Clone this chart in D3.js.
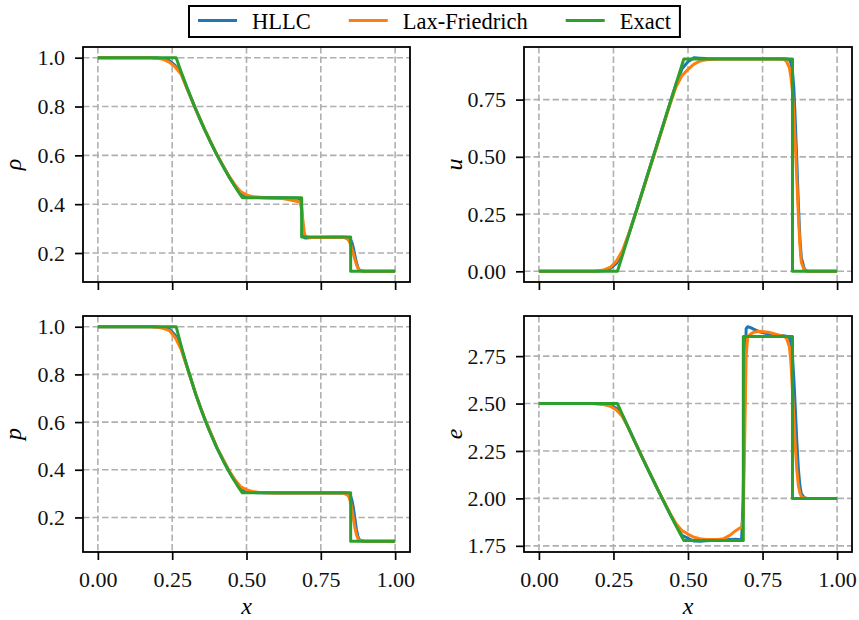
<!DOCTYPE html>
<html>
<head>
<meta charset="utf-8">
<script src="https://cdn.jsdelivr.net/npm/d3@7"></script>
<style>
  body { margin: 0; background: #fff; }
  svg { display: block; }
  svg text { font-family: "Liberation Serif", "Times New Roman", serif; }
</style>
</head>
<body>
<svg id="chart" width="859" height="620"></svg>
<script>
// grid of the numerical solutions
const xGrid = [0, 0.10, 0.18, 0.20, 0.22, 0.24, 0.26, 0.28, 0.30, 0.33, 0.36, 0.40, 0.44, 0.46, 0.48, 0.50,
  0.52, 0.54, 0.56, 0.60, 0.62, 0.64, 0.66, 0.675, 0.68, 0.685, 0.69, 0.695, 0.70, 0.71, 0.72, 0.74, 0.77,
  0.80, 0.82, 0.83, 0.84, 0.845, 0.85, 0.855, 0.86, 0.865, 0.87, 0.875, 0.88, 0.89, 0.90, 1.00];

const rhoHLLC = [1.0, 1.0, 1.0, 0.999, 0.996, 0.988, 0.968, 0.937, 0.875, 0.786, 0.703, 0.603, 0.515, 0.477, 0.444, 0.432,
  0.429, 0.428, 0.427, 0.426, 0.426, 0.425, 0.425, 0.424, 0.421, 0.38, 0.305, 0.262, 0.261, 0.262, 0.263, 0.264, 0.265,
  0.265, 0.265, 0.265, 0.264, 0.262, 0.256, 0.242, 0.218, 0.188, 0.160, 0.140, 0.130, 0.126, 0.125, 0.125];
const rhoLF = [1.0, 1.0, 1.0, 0.998, 0.993, 0.982, 0.962, 0.932, 0.873, 0.786, 0.704, 0.604, 0.517, 0.481, 0.452, 0.438,
  0.431, 0.427, 0.425, 0.424, 0.423, 0.419, 0.414, 0.410, 0.409, 0.399, 0.329, 0.276, 0.267, 0.264, 0.2635, 0.263, 0.2635,
  0.2645, 0.265, 0.263, 0.257, 0.249, 0.236, 0.217, 0.195, 0.172, 0.152, 0.138, 0.130, 0.126, 0.125, 0.125];

const uHLLC = [0, 0, 0, 0.001, 0.004, 0.013, 0.035, 0.083, 0.158, 0.278, 0.403, 0.569, 0.736, 0.818, 0.885, 0.915,
  0.933, 0.931, 0.929, 0.928, 0.928, 0.928, 0.928, 0.928, 0.928, 0.928, 0.928, 0.928, 0.928, 0.928, 0.928, 0.928, 0.928,
  0.928, 0.928, 0.927, 0.925, 0.91, 0.88, 0.80, 0.65, 0.48, 0.30, 0.15, 0.06, 0.01, 0, 0];
const uLF = [0, 0, 0, 0.002, 0.007, 0.018, 0.045, 0.090, 0.158, 0.276, 0.400, 0.565, 0.730, 0.806, 0.855, 0.882,
  0.905, 0.918, 0.924, 0.927, 0.927, 0.927, 0.927, 0.927, 0.927, 0.927, 0.927, 0.927, 0.927, 0.927, 0.927, 0.927, 0.927,
  0.927, 0.926, 0.918, 0.89, 0.85, 0.79, 0.68, 0.55, 0.40, 0.25, 0.12, 0.04, 0.005, 0, 0];

const pHLLC = [1.0, 1.0, 1.0, 0.999, 0.996, 0.990, 0.965, 0.912, 0.833, 0.714, 0.611, 0.493, 0.396, 0.355, 0.319, 0.308,
  0.305, 0.304, 0.3035, 0.303, 0.303, 0.303, 0.303, 0.303, 0.303, 0.303, 0.303, 0.303, 0.303, 0.303, 0.303, 0.303, 0.303,
  0.303, 0.303, 0.303, 0.302, 0.299, 0.290, 0.270, 0.237, 0.192, 0.148, 0.119, 0.106, 0.101, 0.1, 0.1];
const pLF = [1.0, 1.0, 1.0, 0.998, 0.993, 0.984, 0.955, 0.905, 0.830, 0.714, 0.612, 0.495, 0.399, 0.361, 0.329, 0.316,
  0.309, 0.306, 0.304, 0.303, 0.303, 0.303, 0.303, 0.303, 0.303, 0.303, 0.303, 0.303, 0.303, 0.303, 0.303, 0.303, 0.303,
  0.303, 0.303, 0.300, 0.294, 0.284, 0.265, 0.232, 0.192, 0.155, 0.127, 0.111, 0.104, 0.101, 0.1, 0.1];

const eHLLC = [2.5, 2.5, 2.5, 2.499, 2.497, 2.492, 2.475, 2.437, 2.373, 2.271, 2.171, 2.042, 1.917, 1.858, 1.805, 1.790,
  1.775, 1.774, 1.777, 1.779, 1.781, 1.784, 1.785, 1.782, 1.790, 2.0, 2.5, 2.895, 2.905, 2.900, 2.892, 2.878, 2.866,
  2.860, 2.857, 2.855, 2.845, 2.82, 2.76, 2.63, 2.47, 2.30, 2.16, 2.07, 2.025, 2.003, 2.0, 2.0];
const eLF = [2.5, 2.5, 2.5, 2.498, 2.494, 2.486, 2.466, 2.432, 2.372, 2.272, 2.172, 2.044, 1.921, 1.866, 1.83, 1.812,
  1.795, 1.787, 1.784, 1.784, 1.788, 1.805, 1.830, 1.845, 1.849, 1.90, 2.30, 2.75, 2.85, 2.866, 2.876, 2.881, 2.876,
  2.863, 2.855, 2.845, 2.80, 2.72, 2.58, 2.42, 2.27, 2.15, 2.07, 2.03, 2.01, 2.002, 2.0, 2.0];

// exact solution
const xExact = [0, 0.2634, 0.28, 0.30, 0.325, 0.35, 0.375, 0.40, 0.425, 0.45, 0.47, 0.486, 0.6855, 0.6855, 0.8504, 0.8504, 1.0];
const rhoExact = [1, 1, 0.9427, 0.8774, 0.8010, 0.7300, 0.6640, 0.6030, 0.5464, 0.4943, 0.4555, 0.4263, 0.4263, 0.2656, 0.2656, 0.125, 0.125];
const uExact = [0, 0, 0.0693, 0.1527, 0.2568, 0.3610, 0.4652, 0.5693, 0.6735, 0.7777, 0.8610, 0.9275, 0.9275, 0.9275, 0.9275, 0, 0];
const pExact = [1, 1, 0.9207, 0.8327, 0.7329, 0.6436, 0.5637, 0.4925, 0.4291, 0.3729, 0.3326, 0.3031, 0.3031, 0.3031, 0.3031, 0.1, 0.1];
const eExact = [2.5, 2.5, 2.4417, 2.3726, 2.2876, 2.2042, 2.1223, 2.0420, 1.9632, 1.8860, 1.8252, 1.7776, 1.7776, 2.8530, 2.8530, 2.0, 2.0];

// tick labels
const xTicks = [0, 0.25, 0.5, 0.75, 1.0];
const rhoTicks = [0.2, 0.4, 0.6, 0.8, 1.0];
const uTicks = [0, 0.25, 0.5, 0.75];
const pTicks = [0.2, 0.4, 0.6, 0.8, 1.0];
const eTicks = [1.75, 2.0, 2.25, 2.5, 2.75];

const seriesNames = ['HLLC', 'Lax-Friedrich', 'Exact'];
const colors = ['#1f77b4', '#ff7f0e', '#2ca02c'];

const svg = d3.select('#chart');
const serif = '"Liberation Serif", "Times New Roman", serif';
const fontSize = 22;

const panels = [
  {label: 'ρ', vals: [rhoHLLC, rhoLF, rhoExact], ticks: rhoTicks, fmt: '.1f', left: 83, right: 410, top: 47, bottom: 282, xlab: false},
  {label: 'u', vals: [uHLLC, uLF, uExact], ticks: uTicks, fmt: '.2f', left: 524, right: 852, top: 47, bottom: 282, xlab: false},
  {label: 'p', vals: [pHLLC, pLF, pExact], ticks: pTicks, fmt: '.1f', left: 83, right: 410, top: 316, bottom: 552, xlab: true},
  {label: 'e', vals: [eHLLC, eLF, eExact], ticks: eTicks, fmt: '.2f', left: 524, right: 852, top: 316, bottom: 552, xlab: true}
];

panels.forEach(pn => {
  const w = pn.right - pn.left;
  const h = pn.bottom - pn.top;
  const g = svg.append('g').attr('transform', `translate(${pn.left},${pn.top})`);

  const x = d3.scaleLinear().domain([-0.05, 1.05]).range([0, w]);
  const lo = d3.min(pn.vals, v => d3.min(v));
  const hi = d3.max(pn.vals, v => d3.max(v));
  const pad = (hi - lo) * 0.05;
  const y = d3.scaleLinear().domain([lo - pad, hi + pad]).range([h, 0]);

  // grid
  g.append('g').selectAll('line').data(xTicks).join('line')
    .attr('x1', d => x(d)).attr('x2', d => x(d)).attr('y1', 0).attr('y2', h)
    .attr('stroke', '#b0b0b0').attr('stroke-width', 1.6).attr('stroke-dasharray', '6.5,3');
  g.append('g').selectAll('line').data(pn.ticks).join('line')
    .attr('x1', 0).attr('x2', w).attr('y1', d => y(d)).attr('y2', d => y(d))
    .attr('stroke', '#b0b0b0').attr('stroke-width', 1.6).attr('stroke-dasharray', '6.5,3');

  // lines
  const xsFor = [xGrid, xGrid, xExact];
  pn.vals.forEach((vals, i) => {
    const line = d3.line()
      .x((d, j) => x(xsFor[i][j]))
      .y(d => y(d));
    g.append('path')
      .datum(vals)
      .attr('fill', 'none')
      .attr('stroke', colors[i])
      .attr('stroke-width', 3)
      .attr('stroke-linejoin', 'round')
      .attr('d', line);
  });

  // axes
  const ya = g.append('g')
    .call(d3.axisLeft(y).tickValues(pn.ticks).tickFormat(d3.format(pn.fmt)).tickSize(8).tickPadding(10));
  const xa = g.append('g').attr('transform', `translate(0,${h})`)
    .call(d3.axisBottom(x).tickValues(xTicks).tickFormat(pn.xlab ? d3.format('.2f') : '').tickSize(8).tickPadding(11));
  [ya, xa].forEach(a => {
    a.attr('font-family', serif).attr('font-size', fontSize);
    a.select('.domain').remove();
    a.selectAll('.tick line').attr('stroke', '#000').attr('stroke-width', 1.7);
    a.selectAll('.tick text').attr('fill', '#111').attr('font-family', serif);
  });

  // spines
  g.append('rect').attr('width', w).attr('height', h)
    .attr('fill', 'none').attr('stroke', '#000').attr('stroke-width', 1.8);

  // y label
  g.append('text')
    .attr('transform', `translate(${-62},${h / 2}) rotate(-90)`)
    .attr('text-anchor', 'middle')
    .attr('font-family', serif)
    .attr('font-style', 'italic')
    .attr('font-size', fontSize + 2)
    .text(pn.label);

  if (pn.xlab) {
    g.append('text')
      .attr('x', w / 2).attr('y', h + 62)
      .attr('text-anchor', 'middle')
      .attr('font-family', serif)
      .attr('font-style', 'italic')
      .attr('font-size', fontSize + 2)
      .text('x');
  }
});

// legend
const legend = svg.append('g');
const box = legend.append('rect')
  .attr('y', 6).attr('height', 31)
  .attr('fill', '#fff').attr('stroke', '#000').attr('stroke-width', 2);
let cx = 198;
seriesNames.forEach((name, i) => {
  legend.append('line')
    .attr('x1', cx).attr('x2', cx + 39).attr('y1', 20.5).attr('y2', 20.5)
    .attr('stroke', colors[i]).attr('stroke-width', 3);
  const t = legend.append('text')
    .attr('x', cx + 54).attr('y', 28.5)
    .attr('font-family', serif)
    .attr('font-size', fontSize + 0.5)
    .text(name);
  cx = cx + 54 + t.node().getComputedTextLength() + 38;
});
box.attr('x', 189).attr('width', cx - 38 + 9 - 189);
</script>
</body>
</html>
